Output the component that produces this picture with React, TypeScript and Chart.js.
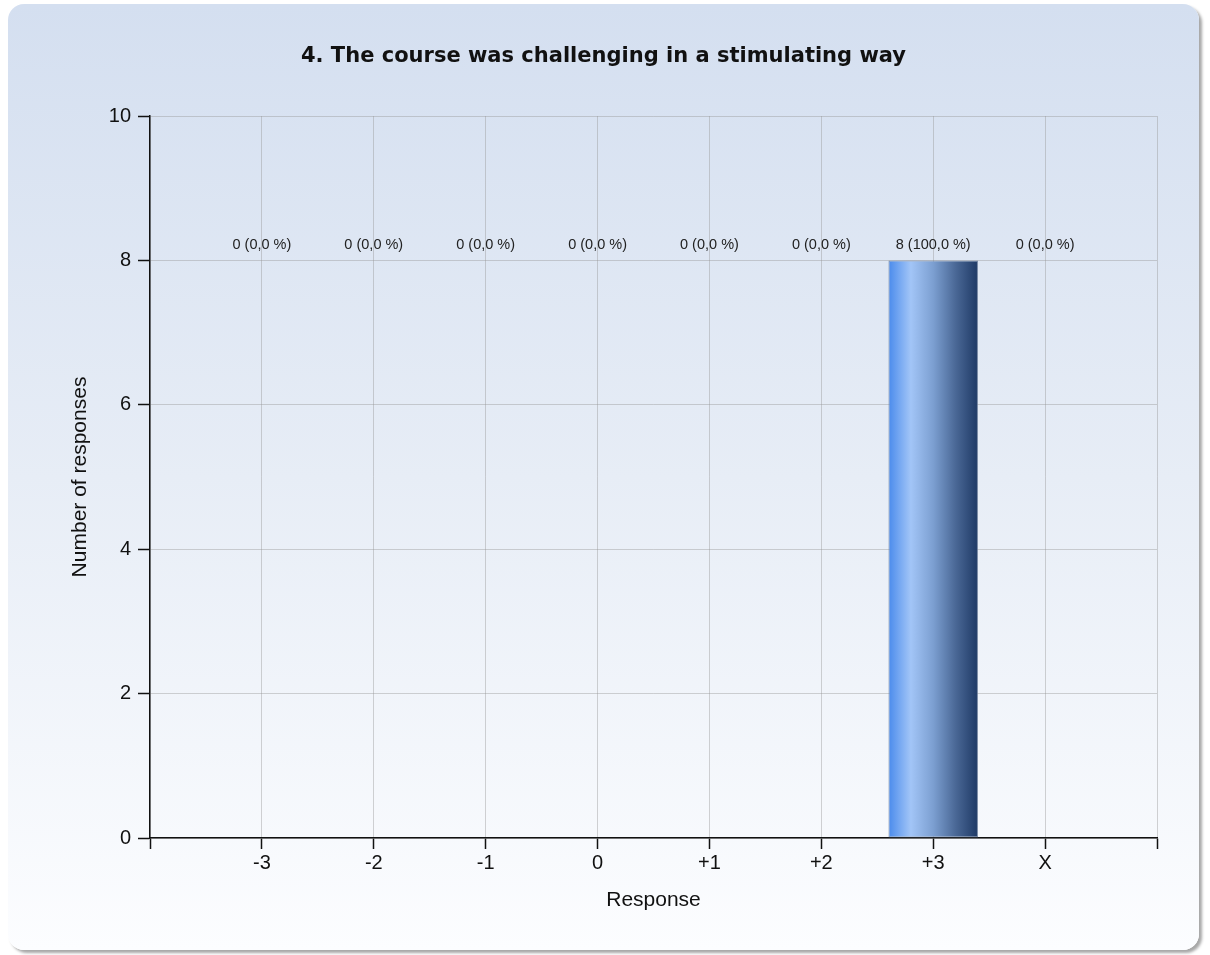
import { useEffect, useRef } from 'react';
import { Chart, registerables } from 'chart.js';

Chart.register(...registerables);

const TITLE = '4. The course was challenging in a stimulating way';
const X_TITLE = 'Response';
const Y_TITLE = 'Number of responses';
const categories = ['-3', '-2', '-1', '0', '+1', '+2', '+3', 'X'];
const counts = [0, 0, 0, 0, 0, 0, 8, 0];
const yMin = 0;
const yMax = 10;
const yStep = 2;

const W = 1191;
const H = 946;
const total = counts.reduce((a, b) => a + b, 0);
const pctText = (v: number) => (total ? (v / total) * 100 : 0).toFixed(1).replace('.', ',');

const SANS = '"Liberation Sans", Arial, sans-serif';

const labelPlugin = {
  id: 'valueLabels',
  afterDatasetsDraw(chart: any) {
    const { ctx } = chart;
    const meta = chart.getDatasetMeta(0);
    const ys = chart.scales.y;
    const yPix = ys.getPixelForValue(Math.max(...counts)) - 15;
    ctx.save();
    ctx.font = `14.5px ${SANS}`;
    ctx.fillStyle = '#222';
    ctx.textAlign = 'center';
    ctx.textBaseline = 'middle';
    meta.data.forEach((el: any, i: number) => {
      ctx.fillText(`${counts[i]} (${pctText(counts[i])} %)`, el.x, yPix);
    });
    ctx.restore();
  },
};

export default function App() {
  const ref = useRef<HTMLCanvasElement | null>(null);

  useEffect(() => {
    if (!ref.current) return;
    const chart = new Chart(ref.current, {
      type: 'bar',
      data: {
        datasets: [
          {
            data: categories.map((_, i) => ({ x: i + 1, y: counts[i] })),
            backgroundColor: (c: any) => {
              const ch = c.chart;
              const xs = ch.scales?.x;
              if (!xs || c.type !== 'data' || !c.parsed) return '#7c9fd0';
              const cx = xs.getPixelForValue(c.parsed.x);
              const step = xs.getPixelForValue(1) - xs.getPixelForValue(0);
              const half = (step * 0.8) / 2;
              if (!isFinite(cx) || !isFinite(half)) return '#7c9fd0';
              const g = ch.ctx.createLinearGradient(cx - half, 0, cx + half, 0);
              g.addColorStop(0, '#4a8bec');
              g.addColorStop(0.25, '#a2c5f7');
              g.addColorStop(0.5, '#7c9fd1');
              g.addColorStop(0.75, '#4a6896');
              g.addColorStop(1, '#1e3965');
              return g;
            },
            borderColor: 'rgba(95,115,145,0.8)',
            borderWidth: 1,
            borderSkipped: false,
            categoryPercentage: 0.8,
            barPercentage: 1,
          },
        ],
      },
      options: {
        responsive: false,
        animation: false,
        layout: { padding: { left: 0, right: 0, top: 0, bottom: 0 } },
        plugins: {
          legend: { display: false },
          tooltip: { enabled: false },
          title: {
            display: true,
            text: TITLE,
            color: '#111',
            font: { family: '"DejaVu Sans", sans-serif', size: 21, weight: 'bold' },
            padding: { top: 40, bottom: 46.8 },
          },
        },
        scales: {
          x: {
            type: 'linear',
            min: 0,
            max: categories.length + 1,
            offset: false,
            afterFit: (s: any) => {
              s.height = 112;
            },
            ticks: {
              stepSize: 1,
              autoSkip: false,
              maxRotation: 0,
              padding: 2,
              color: '#111',
              font: { family: SANS, size: 20 },
              callback: (v: any) => categories[Number(v) - 1] ?? '',
            },
            grid: {
              offset: false,
              color: 'rgba(150,150,150,0.42)',
              lineWidth: 1,
              tickLength: 11,
              tickColor: '#111',
              tickWidth: 1.5,
            },
            border: { color: '#111', width: 1.5 },
            title: {
              display: true,
              text: X_TITLE,
              color: '#111',
              font: { family: SANS, size: 21 },
              padding: { top: 0, bottom: 37.4 },
            },
          },
          y: {
            min: yMin,
            max: yMax,
            afterFit: (s: any) => {
              s.width = 142;
            },
            ticks: {
              stepSize: yStep,
              padding: 7,
              color: '#111',
              font: { family: SANS, size: 20 },
            },
            grid: {
              color: 'rgba(150,150,150,0.42)',
              lineWidth: 1,
              tickLength: 12,
              tickColor: '#111',
              tickWidth: 1.5,
            },
            border: { color: '#111', width: 1.5 },
            title: {
              display: true,
              text: Y_TITLE,
              color: '#111',
              font: { family: SANS, size: 21 },
              padding: { top: 59.4, bottom: 0 },
            },
          },
          spacer: {
            type: 'linear',
            position: 'right',
            display: true,
            afterFit: (s: any) => {
              s.width = W - 1149;
            },
            ticks: { display: false },
            grid: { display: false, drawOnChartArea: false },
            border: { display: false },
          },
        },
      },
      plugins: [labelPlugin],
    } as any);
    return () => chart.destroy();
  }, []);

  return (
    <div
      style={{
        position: 'absolute',
        left: 8,
        top: 4,
        width: W,
        height: H,
        borderRadius: 16,
        background: 'linear-gradient(to bottom, #d4dff0 0%, #e7edf6 50%, #fcfdff 100%)',
        boxShadow: '3px 3px 3px rgba(0,0,0,0.35)',
        overflow: 'hidden',
      }}
    >
      <canvas ref={ref} width={W} height={H} style={{ width: W, height: H, display: 'block' }} />
    </div>
  );
}
